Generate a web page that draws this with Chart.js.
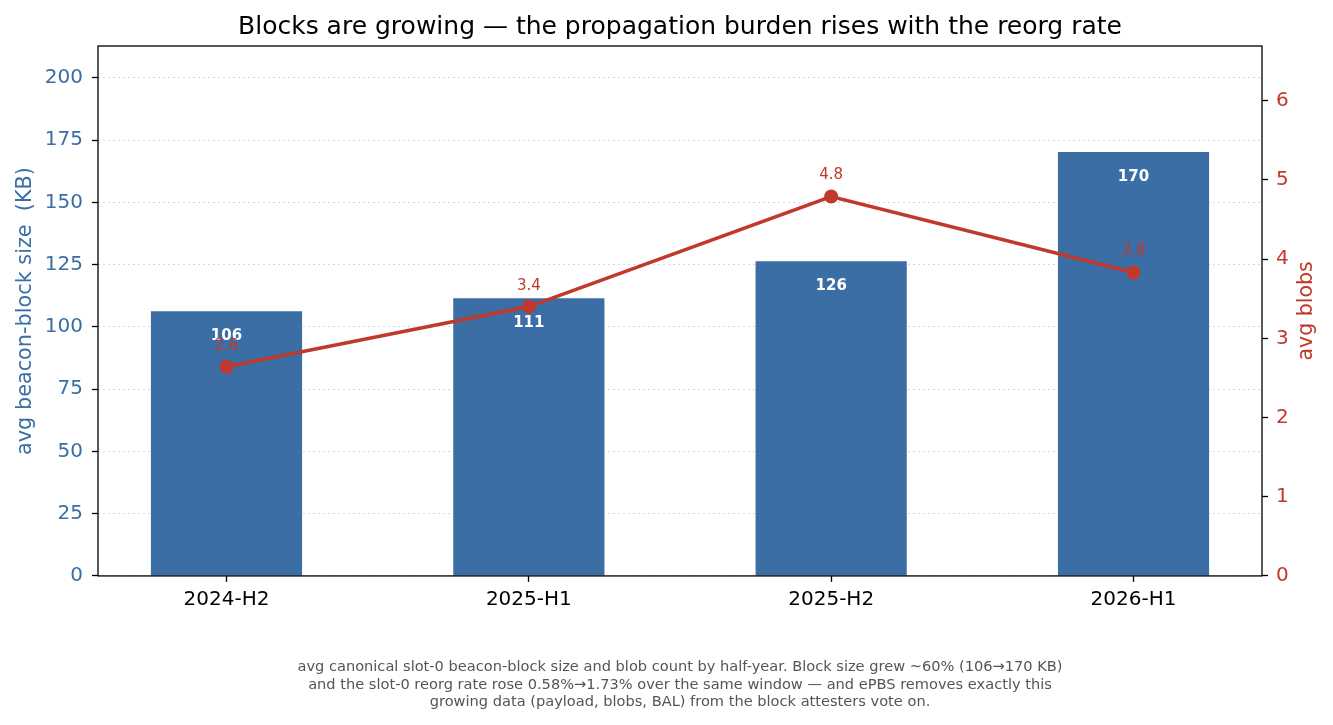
<!DOCTYPE html>
<html>
<head>
<meta charset="utf-8">
<script src="https://cdn.jsdelivr.net/npm/chart.js@4.4.1/dist/chart.umd.min.js"></script>
<style>
  html, body { margin: 0; padding: 0; background: #fff; }
  #wrap { width: 1333px; height: 725px; }
</style>
</head>
<body>
<div id="wrap"><canvas id="myChart" width="1333" height="725"></canvas></div>
<script>
// half-year buckets
var periods = ["2024-H2", "2025-H1", "2025-H2", "2026-H1"]
// avg canonical slot-0 beacon-block size, KB
var blockSize = [106.3, 111.5, 126.4, 170.2]
// avg blob count per block
var avgBlobs = [2.64, 3.40, 4.79, 3.83]
var blockLabels = ["106", "111", "126", "170"]
var blobLabels = ["2.6", "3.4", "4.8", "3.8"]

var caption = [
    "avg canonical slot-0 beacon-block size and blob count by half-year. Block size grew ~60% (106\u2192170 KB)",
    "and the slot-0 reorg rate rose 0.58%\u21921.73% over the same window \u2014 and ePBS removes exactly this",
    "growing data (payload, blobs, BAL) from the block attesters vote on."
]

var BLUE = "#3a6ea5"
var RED = "#c0392b"
var FONT = "'DejaVu Sans', sans-serif"

function keepSteps(step) {
    return function(scale) {
        scale.ticks = scale.ticks.filter(function(t) {
            return Math.abs(t.value / step - Math.round(t.value / step)) < 1e-6
        })
    }
}

var valueLabels = {
    id: "valueLabels",
    afterDatasetDraw: function(chart, args) {
        var ctx = chart.ctx
        var meta = args.meta
        var ys = chart.scales[meta.yAxisID]
        var xs = chart.scales.x
        ctx.save()
        ctx.textAlign = "center"
        ctx.textBaseline = "middle"
        if (meta.type == "bar") {
            ctx.fillStyle = "#ffffff"
            ctx.font = "bold 15px " + FONT
            blockSize.forEach(function(v, i) {
                ctx.fillText(blockLabels[i], xs.getPixelForValue(i), ys.getPixelForValue(v) + 25)
            })
        } else {
            ctx.fillStyle = RED
            ctx.font = "15px " + FONT
            avgBlobs.forEach(function(v, i) {
                ctx.fillText(blobLabels[i], xs.getPixelForValue(i), ys.getPixelForValue(v) - 21)
            })
        }
        ctx.restore()
    }
}

// frame round the plot + right axis title reading bottom-to-top
var frame = {
    id: "frame",
    afterDraw: function(chart) {
        var a = chart.chartArea
        var ctx = chart.ctx
        ctx.save()
        ctx.strokeStyle = "#000"
        ctx.lineWidth = 1.3
        ctx.strokeRect(a.left, a.top, a.right - a.left, a.bottom - a.top)
        ctx.restore()

        var s = chart.scales.y2
        ctx.save()
        ctx.translate(s.right - 26, (a.top + a.bottom) / 2)
        ctx.rotate(-Math.PI / 2)
        ctx.textAlign = "center"
        ctx.textBaseline = "middle"
        ctx.fillStyle = RED
        ctx.font = "20.5px " + FONT
        ctx.fillText("avg blobs", 0, 0)
        ctx.restore()
    }
}

var points = function(arr) {
    return arr.map(function(v, i) { return {x: i, y: v} })
}

var ctx = document.getElementById("myChart").getContext("2d")
var myChart = new Chart(ctx, {
    type: "bar",
    data: {
        datasets: [{
            type: "line",
            label: "avg blobs",
            data: points(avgBlobs),
            yAxisID: "y2",
            borderColor: RED,
            backgroundColor: RED,
            borderWidth: 3.6,
            pointRadius: 7,
            pointHoverRadius: 7,
            pointBorderWidth: 0,
            tension: 0,
            order: 0
        }, {
            type: "bar",
            label: "avg beacon-block size (KB)",
            data: points(blockSize),
            yAxisID: "y",
            backgroundColor: BLUE,
            borderWidth: 0,
            barPercentage: 0.5,
            categoryPercentage: 1,
            order: 1
        }]
    },
    options: {
        responsive: false,
        animation: false,
        layout: { padding: 0 },
        scales: {
            x: {
                type: "linear",
                offset: false,
                min: -0.425,
                max: 3.425,
                afterBuildTicks: function(scale) {
                    scale.ticks = periods.map(function(p, i) { return {value: i} })
                },
                afterFit: function(scale) { scale.height = 82.5 },
                ticks: {
                    color: "#000",
                    font: { family: FONT, size: 20 },
                    padding: 6,
                    maxRotation: 0,
                    callback: function(v) { return periods[v] }
                },
                grid: { offset: false, drawOnChartArea: false, drawTicks: true, tickLength: 6, tickColor: "#000", tickWidth: 1.3 },
                border: { display: false }
            },
            y: {
                position: "left",
                min: 0,
                max: 212.8,
                afterBuildTicks: keepSteps(25),
                afterFit: function(scale) { scale.width = 98 },
                ticks: {
                    stepSize: 25,
                    color: BLUE,
                    font: { family: FONT, size: 20 },
                    padding: 9
                },
                title: {
                    display: true,
                    text: "avg beacon-block size  (KB)",
                    color: BLUE,
                    font: { family: FONT, size: 20.8 },
                    padding: { top: 13, bottom: 0 }
                },
                grid: {
                    color: "#d8d8d8",
                    lineWidth: 1,
                    tickLength: 6,
                    tickColor: "#000",
                    tickWidth: 1.3,
                    tickBorderDash: []
                },
                border: { display: false, dash: [2, 3] }
            },
            y2: {
                position: "right",
                min: 0,
                max: 6.69,
                afterBuildTicks: keepSteps(1),
                afterFit: function(scale) { scale.width = 71 },
                ticks: {
                    stepSize: 1,
                    color: RED,
                    font: { family: FONT, size: 20 },
                    padding: 8
                },
                grid: { drawOnChartArea: false, tickLength: 6, tickColor: "#000", tickWidth: 1.3 },
                border: { display: false }
            }
        },
        plugins: {
            legend: { display: false },
            tooltip: { enabled: false },
            title: {
                display: true,
                fullSize: false,
                text: "Blocks are growing \u2014 the propagation burden rises with the reorg rate",
                color: "#000",
                font: { family: FONT, size: 25, weight: "normal", lineHeight: 1.2 },
                padding: { top: 12, bottom: 4 }
            },
            subtitle: {
                display: true,
                fullSize: false,
                position: "bottom",
                text: caption,
                color: "#555555",
                font: { family: FONT, size: 14.6, lineHeight: 1.2 },
                padding: { top: 0, bottom: 14 }
            }
        }
    },
    plugins: [valueLabels, frame]
});
</script>
</body>
</html>
